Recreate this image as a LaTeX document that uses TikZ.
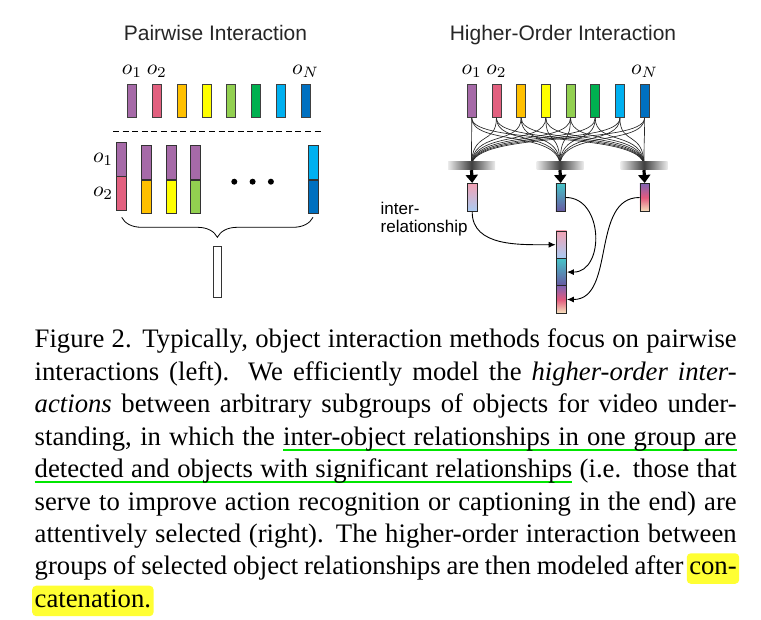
\documentclass[tikz,border=0pt]{standalone}
\usepackage{fontspec}
\setmainfont{Liberation Serif}
\newfontfamily\arialfont{Liberation Sans}
\usetikzlibrary{arrows.meta,positioning,calc,decorations.pathreplacing}
\definecolor{cpur}{HTML}{A66AA8}
\definecolor{cpnk}{HTML}{E2607F}
\definecolor{corg}{HTML}{FFC000}
\definecolor{cyel}{HTML}{FFFF00}
\definecolor{clgr}{HTML}{92D050}
\definecolor{cgrn}{HTML}{00B050}
\definecolor{clbl}{HTML}{00B0F0}
\definecolor{cblu}{HTML}{0070C0}
\definecolor{rpnk}{HTML}{F2A2B4}
\definecolor{rsky}{HTML}{A8CCF4}
\definecolor{rtea}{HTML}{46C4C8}
\definecolor{rind}{HTML}{6858A2}
\definecolor{rvio}{HTML}{8064B2}
\definecolor{rred}{HTML}{E25A7E}
\definecolor{rsnd}{HTML}{F6E4BE}
\definecolor{ulg}{HTML}{00E600}
\definecolor{hly}{HTML}{FFFF33}
% green underline: words and the spaces between them
\newcommand\ulw[1]{\setbox0=\hbox{#1}\rlap{\textcolor{ulg}{\rule[-5.4pt]{\wd0}{1.8pt}}}\box0\relax}
\newcommand\uls{\textcolor{ulg}{\leaders\hrule height -3.6pt depth 5.4pt\hskip\fontdimen2\font plus\fontdimen3\font minus\fontdimen4\font}}
\newcommand\olab[1]{\scalebox{2.15}{$o_#1$}}
\tikzset{
  objbar/.style={draw=black!75,line width=0.8pt,minimum width=9pt,minimum height=33pt,inner sep=0pt},
  pairseg/.style={draw=black!80,line width=0.8pt,minimum width=10pt,minimum height=33.5pt,inner sep=0pt},
  olabel/.style={inner sep=0pt,anchor=base},
  ptitle/.style={font=\arialfont\fontsize{21}{24}\selectfont,text=black!85,anchor=base},
  dotn/.style={circle,fill=black,inner sep=0pt,minimum size=6pt},
  resbox/.style={draw=black!80,line width=0.8pt,fill=white,minimum width=8pt,minimum height=50.5pt,inner sep=0pt},
  aggbar/.style={minimum width=47pt,minimum height=8pt,inner sep=0pt,left color=black!8,right color=black!8,middle color=black!75},
  fan/.style={line width=0.65pt,draw=black!85},
  fatar/.style={line width=3.2pt,-{Triangle[width=12pt,length=8pt]}},
  relbox/.style={draw=black!85,line width=0.8pt,minimum width=9.5pt,minimum height=28.3pt,inner sep=0pt},
  catbox/.style={relbox,minimum width=10.5pt,minimum height=27.4pt},
  cur/.style={line width=0.9pt,-{Latex[length=7pt,width=6pt]}},
  capline/.style={anchor=base west,inner sep=0pt,font=\fontsize{26.7}{32.4}\selectfont},
  hlbox/.style={capline,fill=hly,rounded corners=4pt,inner xsep=2.5pt,inner ysep=0.5pt,text height=21pt,text depth=8.5pt},
}
\begin{document}
\begin{tikzpicture}[x=1pt,y=-1pt]
  \useasboundingbox (0,0) rectangle (761,620);
  % titles
  \node[ptitle] (lt) at (215.5,41) {Pairwise Interaction};
  \node[ptitle] (rt) at (563,41) {Higher-Order Interaction};
  % object bars, both panels
  \foreach \c [count=\i] in {cpur,cpnk,corg,cyel,clgr,cgrn,clbl,cblu}{
    \node[objbar,fill=\c] (p\i) at ({132+(\i-1)*24.8},101) {};
    \node[objbar,fill=\c] (h\i) at ({471.7+(\i-1)*24.7},101) {};
  }
  \foreach \k/\s in {1/1,2/2,8/N}{
    \node[olabel] (pl\k) at ([yshift=10pt]p\k.north) {\olab{\s}};
    \node[olabel] (hl\k) at ([yshift=10pt]h\k.north) {\olab{\s}};
  }
  % pairwise part
  \draw[dashed,line width=0.8pt,dash pattern=on 6pt off 3.6pt] (113,131) -- (323,131);
  \node[pairseg,fill=cpur] (qt1) at (121.7,159.2) {};
  \node[pairseg,fill=cpnk,below=0pt of qt1] (qb1) {};
  \foreach \c [count=\i from 2] in {corg,cyel,clgr}{
    \node[pairseg,fill=cpur] (qt\i) at ({146.7+(\i-2)*24.5},162.5) {};
    \node[pairseg,fill=\c,below=0pt of qt\i] (qb\i) {};
  }
  \node[pairseg,fill=clbl] (qt9) at (313,162.5) {};
  \node[pairseg,fill=cblu,below=0pt of qt9] (qb9) {};
  \node[olabel,anchor=east] (ql1) at ([xshift=-3pt]qt1.west) {\olab{1}};
  \node[olabel,anchor=east] (ql2) at ([xshift=-3pt]qb1.west) {\olab{2}};
  \foreach \i in {1,2,3}
    \node[dotn] (d\i) at ({234.3+(\i-1)*18.3},181.7) {};
  \coordinate (bl) at (121.7,217.3);
  \coordinate (br) at (313,217.3);
  \draw[line width=0.8pt,decorate,decoration={brace,mirror,amplitude=20pt}] (bl) -- (br);
  \coordinate (btip) at ($(bl)!0.5!(br)+(0,21)$);
  \node[resbox,below=8pt of btip] (pres) {};
  % higher-order part
  \foreach \x [count=\j] in {471.5,560,644}
    \coordinate (gc\j) at (\x,166);
  \foreach \i in {1,...,8}{
    \foreach \j in {1,2,3}{
      \draw[fan] (h\i.south) .. controls +(0,28) and +(0,-36) .. (gc\j);
    }
  }
  \foreach \j in {1,2,3}
    \node[aggbar] (g\j) at (gc\j) {};
  \node[relbox,top color=rpnk,bottom color=rsky] (r1) at (472.2,197.5) {};
  \node[relbox,top color=rtea,bottom color=rind] (r2) at (560.7,197.5) {};
  \node[relbox,top color=rvio,bottom color=rsnd,middle color=rred] (r3) at (644.7,197.5) {};
  \foreach \j in {1,2,3}
    \draw[fatar] (g\j.south) -- (r\j.north);
  \node[catbox,top color=rpnk,bottom color=rsky] (s1) at (561.3,244.7) {};
  \node[catbox,top color=rtea,bottom color=rind,below=-0.8pt of s1] (s2) {};
  \node[catbox,top color=rvio,bottom color=rsnd,middle color=rred,below=-0.8pt of s2] (s3) {};
  \node[font=\arialfont\fontsize{17}{18.3}\selectfont,align=left,anchor=north west,inner sep=0pt] (ilab) at (380.5,201.5) {inter-\\relationship};
  \draw[cur] (r1.south) to[out=-90,in=180] (s1.west);
  \draw[cur] (r2.east) to[out=0,in=0,looseness=1.3] (s2.east);
  \draw[cur] (r3.west) to[out=180,in=0] (s3.east);
  % caption
  \foreach \ctxt [count=\k] in {
    {Figure 2.  Typically, object interaction methods focus on pairwise},
    {interactions (left).  We efficiently model the \textit{higher-order inter-}},
    {\textit{actions} between arbitrary subgroups of objects for video under-},
    {standing, in which the \ulw{inter-object}\uls\ulw{relationships}\uls\ulw{in}\uls\ulw{one}\uls\ulw{group}\uls\ulw{are}},
    {\ulw{detected}\uls\ulw{and}\uls\ulw{objects}\uls\ulw{with}\uls\ulw{significant}\uls\ulw{relationships} (i.e.  those that},
    {serve to improve action recognition or captioning in the end) are},
    {attentively selected (right).  The higher-order interaction between}}
    \node[capline] (cap\k) at (34.5,{348+(\k-1)*32.4}) {\makebox[702pt][s]{\ctxt}};
  \node[capline] (cap8) at (34.5,{348+7*32.4}) {\makebox[702pt][s]{groups of selected object relationships are then modeled after \phantom{con-}}};
  \node[hlbox,anchor=base east] (hl1) at ([xshift=2.5pt]cap8.base east) {con-};
  \node[hlbox] (hl2) at (32,{348+8*32.4}) {catenation.};
\end{tikzpicture}
\end{document}
